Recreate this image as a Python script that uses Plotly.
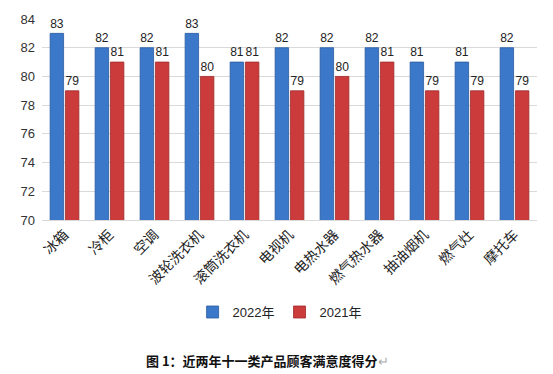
import plotly.graph_objects as go

categories = ["冰箱", "冷柜", "空调", "波轮洗衣机", "滚筒洗衣机", "电视机", "电热水器", "燃气热水器", "抽油烟机", "燃气灶", "摩托车"]
values_2022 = [83, 82, 82, 83, 81, 82, 82, 82, 81, 81, 82]
values_2021 = [79, 81, 81, 80, 81, 79, 80, 81, 79, 79, 79]
y_ticks = [70, 72, 74, 76, 78, 80, 82, 84]

fig = go.Figure()
fig.add_trace(go.Bar(name="2022年", x=categories, y=values_2022, text=values_2022,
                     textposition="outside", cliponaxis=False,
                     marker=dict(color="#3b78c9", line=dict(color="#2a5a9e", width=0.8))))
fig.add_trace(go.Bar(name="2021年", x=categories, y=values_2021, text=values_2021,
                     textposition="outside", cliponaxis=False,
                     marker=dict(color="#cc3b3b", line=dict(color="#9e2a2a", width=0.8))))

fig.update_traces(textfont=dict(family="Liberation Sans, Arial", size=13, color="#222"))

fig.update_layout(
    width=553, height=374,
    margin=dict(l=42, r=16, t=19, b=154),
    paper_bgcolor="white", plot_bgcolor="white",
    barmode="group", bargap=0.32, bargroupgap=0.12,
    font=dict(family="Noto Sans CJK SC", color="#222"),
    showlegend=True,
    legend=dict(orientation="h", x=0.48, xanchor="center", y=-0.458, yanchor="middle",
                font=dict(family="Liberation Sans, Noto Sans CJK SC", size=13),
                itemwidth=30, tracegroupgap=0),
    yaxis=dict(range=[70, 84], tickvals=y_ticks, showgrid=True, gridcolor="#d9d9d9",
               gridwidth=1, zeroline=False, showline=False,
               tickfont=dict(family="Liberation Sans, Arial", size=13, color="#333"),
               ticks="", ticklabelstandoff=6, automargin=False),
    xaxis=dict(tickangle=-45, tickfont=dict(family="Noto Sans CJK SC", size=14, color="#222"),
               showline=True, linecolor="#d9d9d9", ticks="", automargin=False),
)

fig.add_annotation(text="<b>图 1：近两年十一类产品顾客满意度得分</b><span style='color:#aaa'>↵</span>",
                   xref="paper", yref="paper", x=0.455, y=-0.697, showarrow=False,
                   xanchor="center", yanchor="middle",
                   font=dict(family="Noto Sans CJK SC", size=13, color="#111"))

fig.write_html("out.html", config={"displayModeBar": False},
               post_script="document.body.style.margin='0';document.body.style.overflow='hidden';")
